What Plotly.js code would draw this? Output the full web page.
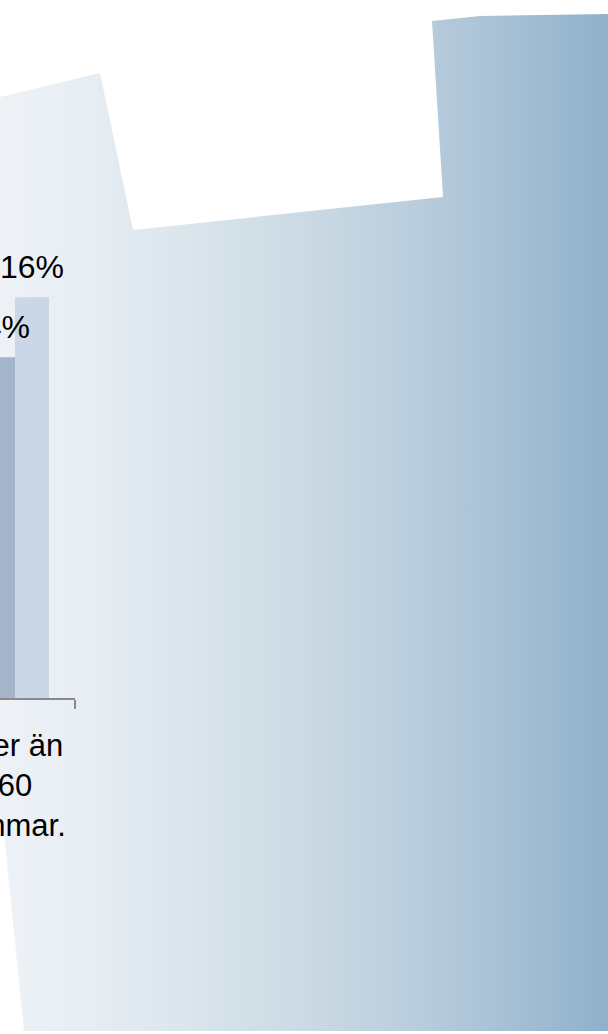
<!DOCTYPE html>
<html>
<head>
<meta charset="utf-8">
<script src="https://cdn.plot.ly/plotly-3.0.1.min.js"></script>
<style>
  html, body { margin: 0; padding: 0; background: #ffffff; overflow: hidden; }
  #chart { width: 608px; height: 1034px; }
</style>
</head>
<body>
<div id="chart"></div>
<script>
// ---- chart data ----
const categories = ['Mer än<br>60<br>timmar.'];
const seriesNames = ['Serie 1', 'Serie 2'];
const seriesA = [13.6];
const seriesB = [16];
const labelsA = ['14%'];
const labelsB = ['16%'];

// ---- decorative background outline (page pixels) ----
const bgX = [0, 100, 133, 443, 432, 480, 608, 608, 24, 14, 4, 0, 0];
const bgY = [97, 73, 230, 197, 21, 16, 14, 1031, 1031, 933, 833, 815, 97];

const FONT = 'Arial, "Liberation Sans", sans-serif';
const W = 608, H = 1034;
const axisY = 698, topY = 197;
const plotRight = 75;
const barPx = 34;

const traces = [
  {
    type: 'scatter', mode: 'lines', x: bgX, y: bgY, xaxis: 'x', yaxis: 'y',
    fill: 'toself', line: { width: 0, color: 'rgba(0,0,0,0)' },
    fillgradient: {
      type: 'horizontal', start: 0, stop: W,
      colorscale: [
        [0, '#eef2f7'], [0.15, '#e6edf3'], [0.33, '#d9e4eb'], [0.5, '#cbdae4'],
        [0.66, '#bccfde'], [0.8, '#abc3d7'], [0.9, '#9dbad1'], [1, '#8fb1ca']
      ]
    },
    hoverinfo: 'skip', showlegend: false
  },
  {
    type: 'bar', name: seriesNames[0], x: categories, y: seriesA,
    xaxis: 'x2', yaxis: 'y2', marker: { color: '#a4b4c9', line: { width: 0 } }
  },
  {
    type: 'bar', name: seriesNames[1], x: categories, y: seriesB,
    xaxis: 'x2', yaxis: 'y2', marker: { color: '#cad7e7', line: { width: 0 } }
  }
];

const annotations = [];
[[seriesA, labelsA, -barPx / 2], [seriesB, labelsB, barPx / 2]].forEach(function (s) {
  categories.forEach(function (c, i) {
    annotations.push({
      xref: 'x2', yref: 'y2', x: c, y: s[0][i], text: s[1][i],
      showarrow: false, xanchor: 'center', yanchor: 'bottom',
      xshift: s[2], yshift: 10,
      font: { family: FONT, size: 32, color: '#000000' }
    });
  });
});

const layout = {
  width: W, height: H,
  margin: { l: 0, r: 0, t: 0, b: 0, pad: 0 },
  paper_bgcolor: '#ffffff', plot_bgcolor: 'rgba(0,0,0,0)',
  showlegend: false,
  barmode: 'group', bargap: 0.433, bargroupgap: 0,
  xaxis: { domain: [0, 1], range: [0, W], visible: false, fixedrange: true },
  yaxis: { domain: [0, 1], range: [H, 0], visible: false, fixedrange: true },
  xaxis2: {
    anchor: 'y2', domain: [0, plotRight / W], type: 'category',
    range: [-0.125, 0.5],
    showline: true, linecolor: '#8a8a8a', linewidth: 1.5,
    ticks: 'outside', tickson: 'boundaries', ticklen: 9, tickcolor: '#8a8a8a', tickwidth: 1.5,
    ticklabelstandoff: 19,
    showgrid: false, zeroline: false,
    tickfont: { family: FONT, size: 31, color: '#000000' },
    fixedrange: true
  },
  yaxis2: {
    anchor: 'x2', domain: [(H - axisY) / H, (H - topY) / H],
    range: [0, 20], visible: false, showgrid: false, zeroline: false, fixedrange: true
  },
  annotations: annotations
};

Plotly.newPlot('chart', traces, layout, { staticPlot: true, displayModeBar: false });
</script>
</body>
</html>
